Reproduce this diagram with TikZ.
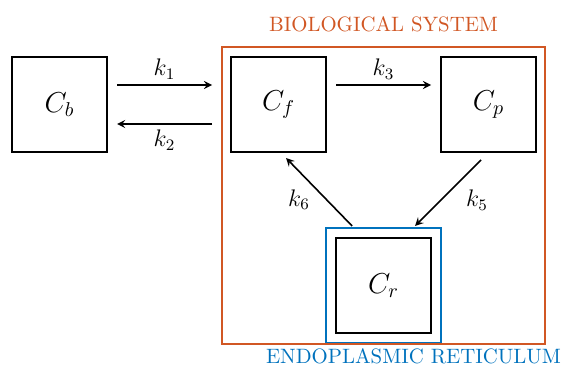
\documentclass[tikz,border=0pt]{standalone}
\usepackage{amsmath}
\usepackage{tikz}
\usetikzlibrary{arrows, positioning, fit, calc}
\definecolor{sysorange}{rgb}{0.82,0.34,0.14}
\definecolor{erblue}{rgb}{0,0.447,0.741}
\tikzstyle{arrow} = [line width=0.8pt,->,>=stealth]
\tikzstyle{species} = [rectangle, minimum width=1.67cm, minimum height=1.67cm, inner sep=0pt, outer sep=0pt, text centered, draw=black, line width=1pt, font=\Large]
\tikzstyle{rate} = [font=\large, inner sep=0pt]
\tikzstyle{caption} = [font=\fontsize{10.4}{12}\selectfont, inner sep=0pt]

\begin{document}
\begin{tikzpicture}
    \useasboundingbox (0,0) rectangle (281.5pt,-182.5pt);

    % Compartimentos
    \node (cb) [species] at (29.75pt,-52.25pt) {$C_b$};
    \node (cf) [species, right=2.18cm of cb] {$C_f$};
    \node (cp) [species, right=2.02cm of cf] {$C_p$};
    \coordinate (mid) at ($(cf.south)!0.5!(cp.south)$);
    \node (cr) [species, below=1.51cm of mid] {$C_r$};

    % Reticulo endoplasmico
    \node (er) [draw=erblue, line width=1pt, inner sep=5pt, fit=(cr)] {};
    \node (ertext) [caption, text=erblue, below=2pt of er.south, xshift=15pt] {ENDOPLASMIC RETICULUM};

    % Sistema biologico
    \draw [sysorange, line width=1pt] ($(cf.north west)+(-4.5pt,5pt)$) rectangle ($(er.south -| cp.east)+(4.5pt,0)$);
    \coordinate (systop) at ($(cf.north)!0.5!(cp.north)+(0,5pt)$);
    \node (systext) [caption, text=sysorange, above=7.5pt of systop] {BIOLOGICAL SYSTEM};

    % Flechas
    \draw [arrow] ([xshift=5pt, yshift=9.75pt]cb.east) -- node[rate, yshift=8pt] {$k_1$} ([xshift=-9.5pt, yshift=9.75pt]cf.west);
    \draw [arrow] ([xshift=-9.5pt, yshift=-9.75pt]cf.west) -- node[rate, yshift=-8pt] {$k_2$} ([xshift=5pt, yshift=-9.75pt]cb.east);
    \draw [arrow] ([xshift=5pt, yshift=9.75pt]cf.east) -- node[rate, yshift=8pt] {$k_3$} ([xshift=-5pt, yshift=9.75pt]cp.west);
    \draw [arrow] ([xshift=-3.75pt, yshift=-4pt]cp.south) -- node[rate, xshift=14.5pt, yshift=-3.5pt] {$k_5$} ([xshift=15.75pt, yshift=0.5pt]er.north);
    \draw [arrow] ([xshift=-15.75pt, yshift=0.5pt]er.north) -- node[rate, xshift=-10pt, yshift=-3.75pt] {$k_6$} ([xshift=3.75pt, yshift=-3pt]cf.south);
\end{tikzpicture}
\end{document}
